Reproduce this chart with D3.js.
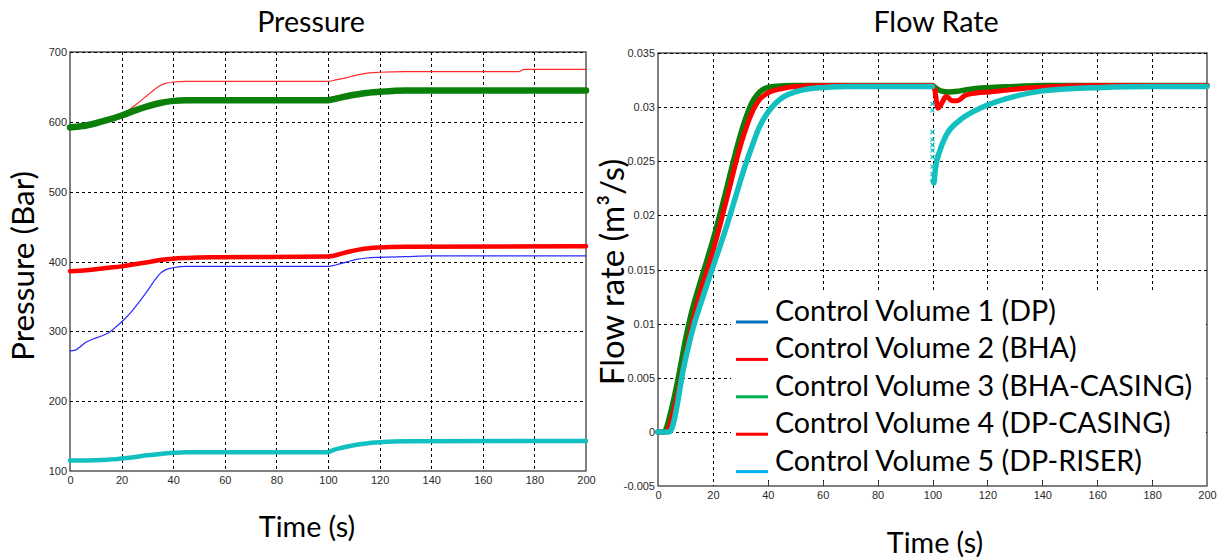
<!DOCTYPE html>
<html><head><meta charset="utf-8">
<script src="https://cdn.jsdelivr.net/npm/d3@7"></script>
<style>body{margin:0;background:#fff}svg{display:block}</style>
</head><body>
<svg id="c" width="1220" height="558"></svg>
<script>
// ---------- DATA ----------
const timeTicks = [0,20,40,60,80,100,120,140,160,180,200];
const pressureTicks = [100,200,300,400,500,600,700];
const flowTicks = [-0.005,0,0.005,0.01,0.015,0.02,0.025,0.03,0.035];
const flowTickLabels = ["-0.005","0","0.005","0.01","0.015","0.02","0.025","0.03","0.035"];
const legendLabels = ["Control Volume 1 (DP)","Control Volume 2 (BHA)","Control Volume 3 (BHA-CASING)","Control Volume 4 (DP-CASING)","Control Volume 5 (DP-RISER)"];

// Pressure (bar) vs time (s)
const pCV1 = [[0,272],[2,273],[4,278],[6,284],[9,289],[12,293],[15,298],[18,307],[21,317],[24,329],[27,343],[30,358],[33,374],[35,383],[37,388],[40,391],[45,393],[100,393],[103,395],[107,399],[111,403],[115,405],[120,406],[130,407],[140,408],[200,408]];
const pCV2 = [[0,592],[5,594],[10,598],[15,603],[18,606],[22,615],[26,626],[30,638],[33,647],[35,652],[37,655],[40,657],[45,658],[100,658],[103,660],[107,663],[111,667],[116,670],[120,671],[130,672],[174,672],[176,675],[200,675]];
const pCV3 = [[0,592],[5,594],[10,598],[15,603],[20,609],[25,616],[30,622],[35,627],[40,630],[45,631],[100,631],[104,634],[109,638],[114,641],[120,643],[130,645],[200,645]];
const pCV4 = [[0,386],[5,387],[10,389],[15,391],[20,393],[25,396],[30,399],[35,402],[40,404],[45,405],[55,406],[100,407],[104,410],[108,414],[112,417],[116,419],[120,420],[130,421],[200,422]];
const pCV5 = [[0,115],[10,115.5],[18,117],[22,118.5],[26,120.5],[30,122.5],[35,124.5],[40,126],[45,127],[100,127],[102,130],[105,133],[110,137],[115,139.5],[120,141],[130,142.5],[200,143]];

// Flow rate (m3/s) vs time (s); null = break in the plotted line
const fCV3 = [[0,0],[2,0],[3,0.0003],[4,0.0012],[5,0.0022],[6,0.0033],[7,0.0045],[8,0.0058],[10,0.0085],[12,0.0108],[15,0.0135],[18,0.016],[20,0.0177],[23,0.0205],[26,0.0235],[29,0.0265],[32,0.029],[34,0.0303],[36,0.0311],[38,0.0316],[42,0.0319],[50,0.032],[100,0.032],[101,0.0318],[103,0.0315],[106,0.0314],[110,0.0315],[115,0.0317],[120,0.0318],[130,0.0319],[140,0.032],[200,0.032]];
const fCV4 = [[0,0],[3,0],[4,0.0004],[5,0.0012],[6,0.0022],[7,0.0033],[8,0.0045],[10,0.007],[12,0.0095],[15,0.0125],[18,0.015],[20,0.0167],[23,0.0195],[26,0.0225],[29,0.0255],[32,0.028],[35,0.0299],[37,0.0307],[40,0.0313],[45,0.0317],[50,0.0319],[60,0.032],[100,0.032],[100.8,0.0316],[102,0.0299],[103,0.0302],[105,0.031],[107,0.0306],[109,0.0306],[112,0.0311],[116,0.0313],[121,0.0314],[132,0.0317],[145,0.0319],[160,0.032],[200,0.032]];
const fCV5 = [[0,0],[4,0],[5,0.0003],[6,0.0012],[7,0.0025],[8,0.004],[9,0.0055],[11,0.0078],[13,0.0098],[16,0.0122],[19,0.0145],[22,0.0167],[25,0.019],[28,0.0215],[31,0.024],[34,0.0262],[37,0.0282],[40,0.0295],[43,0.0304],[46,0.031],[50,0.0314],[55,0.0317],[60,0.0318],[70,0.0319],[100,0.0319],[100.1,null],[100.2,0.0232],[100.5,0.023],[101,0.0242],[102.7,0.026],[105,0.0274],[110,0.0288],[115,0.0296],[120,0.0302],[130,0.031],[140,0.0315],[150,0.0317],[160,0.0318],[180,0.0319],[200,0.0319]];
const fCV5Scatter = [[100,0.0303],[100,0.0297],[100,0.0277],[100,0.027],[100,0.0265],[100,0.026],[100,0.0254],[100,0.0245],[100,0.0238]];

// ---------- DRAW ----------
const svg = d3.select("#c");
const BIG = "Lato, 'Open Sans', sans-serif";
const SMALL = "'Liberation Sans', Arial, sans-serif";

const xP = d3.scaleLinear().domain([0,200]).range([70,586]);
const yP = d3.scaleLinear().domain([100,700]).range([471,52]);
const xF = d3.scaleLinear().domain([0,200]).range([658,1207]);
const yF = d3.scaleLinear().domain([-0.005,0.035]).range([486,53]);

function frameAndGrid(x, y, yTicks, fmt, yPad) {
  const g = svg.append("g");
  const [x0,x1] = x.range(), [y1,y0] = y.range();
  g.append("rect").attr("x",x0).attr("y",y0).attr("width",x1-x0).attr("height",y1-y0)
    .attr("fill","#fff").attr("stroke","#3c3c3c").attr("stroke-width",1.3);
  g.selectAll(".gx").data(timeTicks.slice(1,-1)).join("line")
    .attr("x1",d=>Math.round(x(d))+0.5).attr("x2",d=>Math.round(x(d))+0.5).attr("y1",y0).attr("y2",y1)
    .attr("stroke","#000").attr("stroke-dasharray","3,3");
  g.selectAll(".gy").data(yTicks.slice(1)).join("line")
    .attr("y1",d=>Math.round(y(d))+0.5).attr("y2",d=>Math.round(y(d))+0.5).attr("x1",x0).attr("x2",x1)
    .attr("stroke","#000").attr("stroke-dasharray","3,3");
  const ax = svg.append("g").attr("transform",`translate(0,${y1})`)
    .call(d3.axisBottom(x).tickValues(timeTicks).tickSize(0).tickPadding(5));
  const ay = svg.append("g").attr("transform",`translate(${x0},0)`)
    .call(d3.axisLeft(y).tickValues(yTicks).tickSize(0).tickPadding(yPad).tickFormat(fmt));
  [ax,ay].forEach(a=>{a.select(".domain").remove();
    a.selectAll("text").attr("font-family",SMALL).attr("font-size",11).attr("fill","#2a2a2a");});
  return g;
}

frameAndGrid(xP, yP, pressureTicks, d3.format("d"), 3);
frameAndGrid(xF, yF, flowTicks, (d,i)=>flowTickLabels[i], 3);

const lineP = d3.line().x(d=>xP(d[0])).y(d=>yP(d[1])).curve(d3.curveMonotoneX);
const lineF = d3.line().defined(d=>d[1]!==null).x(d=>xF(d[0])).y(d=>yF(d[1])).curve(d3.curveMonotoneX);

const gp = svg.append("g");
[[pCV1,"#2b2bff",1.2],[pCV2,"#ff2a2a",1.2],[pCV3,"#0a7f0a",6.5],[pCV4,"#ff0000",4.5],[pCV5,"#12c0c0",4.5]]
  .forEach(([d,c,w])=>gp.append("path").attr("d",lineP(d)).attr("fill","none").attr("stroke",c).attr("stroke-width",w).attr("stroke-linecap","round"));

const gf = svg.append("g");
[[fCV3,"#0a7f0a",5.5],[fCV4,"#ff0000",5],[fCV5,"#12c0c0",5.5]]
  .forEach(([d,c,w])=>gf.append("path").attr("d",lineF(d)).attr("fill","none").attr("stroke",c).attr("stroke-width",w).attr("stroke-linejoin","round").attr("stroke-linecap","round"));
gf.selectAll(".sc").data(fCV5Scatter).join("path")
  .attr("d",d=>{const cx=xF(d[0]),cy=yF(d[1]);return `M${cx-2},${cy-2}L${cx+2},${cy+2}M${cx-2},${cy+2}L${cx+2},${cy-2}`;})
  .attr("stroke","#12c0c0").attr("stroke-width",1.2);

// legend (white panel inside flow axes)
svg.append("rect").attr("x",731).attr("y",292).attr("width",1206-731).attr("height",480-292).attr("fill","#fff");
svg.selectAll(".bt").data(timeTicks.slice(2,-1)).join("line")
  .attr("x1",d=>Math.round(xF(d))+0.5).attr("x2",d=>Math.round(xF(d))+0.5).attr("y1",486).attr("y2",481)
  .attr("stroke","#3c3c3c");

const legendColors = ["#0070c0","#ff0000","#00b050","#ff0000","#00b0f0"];
const lg = svg.append("g");
lg.selectAll("line").data(legendLabels).join("line")
  .attr("x1",736).attr("x2",768).attr("y1",(d,i)=>322+37.4*i).attr("y2",(d,i)=>322+37.4*i)
  .attr("stroke",(d,i)=>legendColors[i]).attr("stroke-width",3);
const lt = lg.selectAll("text").data(legendLabels).join("text")
  .attr("x",775).attr("y",(d,i)=>321+37.4*i).text(d=>d)
  .attr("font-family",BIG).attr("font-size",100).attr("fill","#000");
const ref = lt.filter((d,i)=>i===3).node().getComputedTextLength();
const FS = 100*396/ref;
lt.attr("font-size",FS);

function bigText(x,y,txt,rot,size){
  const t = svg.append("text").attr("text-anchor","middle").attr("font-family",BIG)
    .attr("font-size",size).attr("fill","#000").text(txt);
  if(rot) t.attr("transform",`translate(${x},${y}) rotate(-90)`); else t.attr("x",x).attr("y",y);
  return t;
}
bigText(311,31.5,"Pressure",false,FS);
bigText(936,31.5,"Flow Rate",false,FS);
bigText(307,537,"Time (s)",false,FS);
bigText(935,553,"Time (s)",false,FS);
bigText(34,266,"Pressure (Bar)",true,FS*1.1);
bigText(624,272,"Flow rate (m³/s)",true,FS*1.15);
</script>
</body></html>
